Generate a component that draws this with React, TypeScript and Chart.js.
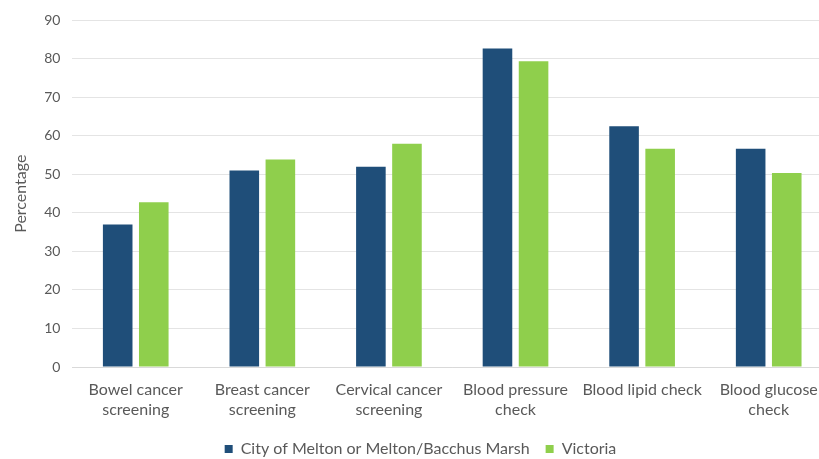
import React, { useEffect, useRef } from "react";
import { Chart, registerables } from "chart.js";

Chart.register(...registerables);

const categories: string[][] = [
  ["Bowel cancer", "screening"],
  ["Breast cancer", "screening"],
  ["Cervical cancer", "screening"],
  ["Blood pressure", "check"],
  ["Blood lipid check"],
  ["Blood glucose", "check"],
];
const meltonValues = [37, 51, 52, 82.7, 62.5, 56.7];
const victoriaValues = [42.8, 53.9, 58, 79.4, 56.7, 50.4];
const seriesNames = ["City of Melton or Melton/Bacchus Marsh", "Victoria"];
const yTicks = { min: 0, max: 90, step: 10 };

export default function App() {
  const ref = useRef<HTMLCanvasElement | null>(null);
  useEffect(() => {
    if (!ref.current) return;
    const font = "Lato, 'Open Sans', sans-serif";
    const chart = new Chart(ref.current, {
      type: "bar",
      data: {
        labels: categories,
        datasets: [
          {
            label: seriesNames[0],
            data: meltonValues,
            backgroundColor: "#1f4e79",
            barPercentage: 0.82,
            categoryPercentage: 0.57,
          },
          {
            label: seriesNames[1],
            data: victoriaValues,
            backgroundColor: "#8fcf4c",
            barPercentage: 0.82,
            categoryPercentage: 0.57,
          },
        ],
      },
      options: {
        animation: false,
        responsive: false,
        layout: { padding: { left: 9, top: 11, right: 0, bottom: 0 } },
        plugins: {
          legend: {
            position: "bottom",
            labels: {
              boxWidth: 8,
              boxHeight: 8,
              color: "#595959",
              font: { family: font, size: 16 },
              padding: 16,
            },
          },
          tooltip: { enabled: false },
        },
        scales: {
          x: {
            grid: { display: false },
            border: { color: "#d9d9d9" },
            ticks: {
              color: "#595959",
              font: { family: font, size: 16, lineHeight: 1.25 },
              maxRotation: 0,
              autoSkip: false,
              padding: 5,
            },
          },
          y: {
            min: yTicks.min,
            max: yTicks.max,
            ticks: {
              stepSize: yTicks.step,
              color: "#595959",
              font: { family: font, size: 14 },
              padding: 12,
            },
            grid: { color: "#e4e4e4", drawTicks: false },
            border: { display: false },
            title: {
              display: true,
              text: "Percentage",
              color: "#595959",
              font: { family: font, size: 16 },
              padding: 2,
            },
          },
        },
      },
    });
    return () => chart.destroy();
  }, []);
  return (
    <div style={{ position: "fixed", left: 0, top: 0, width: 819, height: 459, overflow: "hidden", background: "#fff" }}>
      <canvas ref={ref} width={832} height={467} style={{ display: "block" }} />
    </div>
  );
}
